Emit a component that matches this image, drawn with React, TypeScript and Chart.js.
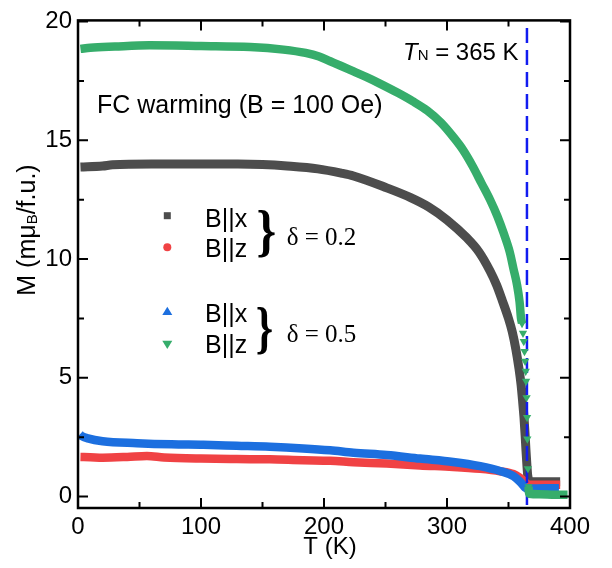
import React, { useEffect, useRef } from 'react';
import { Chart, registerables } from 'chart.js';

Chart.register(...registerables);

// ---- axis ticks ----
const xTicks = [0, 100, 200, 300, 400];
const xMinorTicks = [50, 150, 250, 350];
const yTicks = [0, 5, 10, 15, 20];
const yMinorTicks = [2.5, 7.5, 12.5, 17.5];
const T_N = 365;

// ---- data: delta = 0.2, B||x (gray squares) ----
const grayT = [2, 20, 28, 60, 100, 130, 150, 170, 195, 214, 224, 251, 270, 285, 300, 316, 326, 335, 340.4, 345, 350, 353, 356, 358.5, 360.2, 361.5, 362.6, 363.5, 364.2, 365, 365.6, 366.5, 368, 380, 392];
const grayM = [13.88, 13.92, 13.97, 14.0, 14.0, 14.0, 13.98, 13.92, 13.8, 13.62, 13.5, 13.0, 12.6, 12.2, 11.65, 10.9, 10.3, 9.5, 8.9, 8.25, 7.5, 6.95, 6.2, 5.4, 4.72, 4.0, 3.33, 2.6, 1.95, 1.3, 0.9, 0.7, 0.64, 0.62, 0.62];

// ---- data: delta = 0.2, B||z (red circles) ----
const redT = [2, 10, 20, 40, 56, 70, 100, 129, 156, 183, 205, 224, 251, 278, 305, 327, 343, 354, 359, 362, 364, 365.5, 367, 380, 392];
const redM = [1.67, 1.66, 1.64, 1.67, 1.71, 1.65, 1.6, 1.58, 1.57, 1.53, 1.51, 1.45, 1.39, 1.31, 1.25, 1.17, 1.07, 0.95, 0.8, 0.68, 0.58, 0.52, 0.5, 0.5, 0.5];

// ---- data: delta = 0.5, B||x (blue up triangles) ----
const blueT = [1.5, 3, 8, 20, 48, 76, 102, 129, 156, 183, 205, 224, 251, 278, 305, 327, 343, 354, 359.3, 361.5, 363.4, 365, 367, 380, 391];
const blueM = [2.62, 2.55, 2.45, 2.33, 2.25, 2.2, 2.18, 2.14, 2.1, 2.03, 1.95, 1.85, 1.75, 1.6, 1.46, 1.28, 1.08, 0.86, 0.63, 0.5, 0.38, 0.34, 0.34, 0.35, 0.35];

// ---- data: delta = 0.5, B||z (green down triangles) ----
const greenT = [2, 10, 30, 58, 100, 140, 167, 185, 196, 205, 214, 224, 235, 245, 260, 272, 284, 295, 305, 313, 321, 328, 335, 341, 346, 351, 354, 357, 359, 360.2, 361, 361.8, 362.4, 363, 363.5, 364, 364.3, 364.7, 365.1, 365.3, 365.8, 366.3, 366.8, 375, 388, 398];
const greenM = [18.85, 18.9, 18.95, 19.0, 18.97, 18.93, 18.82, 18.68, 18.53, 18.33, 18.13, 17.9, 17.65, 17.4, 17.0, 16.65, 16.25, 15.75, 15.15, 14.6, 13.9, 13.2, 12.5, 11.8, 11.1, 10.3, 9.6, 8.9, 8.2, 7.5, 7.29, 6.88, 6.53, 6.11, 5.7, 5.28, 4.86, 4.17, 3.33, 2.43, 1.18, 0.42, 0.12, 0.1, 0.08, 0.08];

const GRAY = 'rgb(77,77,77)';
const RED = 'rgb(240,66,68)';
const BLUE = 'rgb(28,111,223)';
const GREEN = 'rgb(54,173,107)';
const DASH_BLUE = 'rgb(18,28,240)';

const SANS = '"Liberation Sans", Arial, sans-serif';
const SERIF = '"Liberation Serif", "Times New Roman", serif';

const toPts = (xs: number[], ys: number[]) => xs.map((x, i) => ({ x, y: ys[i] }));

// discrete (separated) green markers in the steep part of the transition
const isGreenStep = (t: number, m: number) => t > 360.5 && m > 0.3 && m < 7.4;

function drawBrace(ctx: CanvasRenderingContext2D, left: number, top: number, right: number, bottom: number) {
  ctx.save();
  ctx.font = `bold 100px ${SERIF}`;
  ctx.textAlign = 'left';
  ctx.textBaseline = 'alphabetic';
  const m = ctx.measureText('}');
  const inkW = m.actualBoundingBoxLeft + m.actualBoundingBoxRight;
  const inkH = m.actualBoundingBoxAscent + m.actualBoundingBoxDescent;
  ctx.translate(left, top);
  ctx.scale((right - left) / inkW, (bottom - top) / inkH);
  ctx.fillStyle = '#000';
  ctx.fillText('}', m.actualBoundingBoxLeft, m.actualBoundingBoxAscent);
  ctx.restore();
}

function drawRuns(ctx: CanvasRenderingContext2D, x: number, y: number, runs: { t: string; font: string; dy?: number }[], align: 'left' | 'center' = 'left') {
  let total = 0;
  for (const r of runs) {
    ctx.font = r.font;
    total += ctx.measureText(r.t).width;
  }
  let cx = align === 'center' ? x - total / 2 : x;
  for (const r of runs) {
    ctx.font = r.font;
    ctx.fillText(r.t, cx, y + (r.dy || 0));
    cx += ctx.measureText(r.t).width;
  }
}

const decorPlugin = {
  id: 'decor',
  afterDatasetsDraw(chart: any) {
    const { ctx, chartArea: a, scales } = chart;
    const xs = scales.x;
    const ys = scales.y;
    ctx.save();
    // frame
    ctx.strokeStyle = '#000';
    ctx.lineWidth = 2.5;
    ctx.strokeRect(a.left, a.top, a.right - a.left, a.bottom - a.top);
    // inward ticks on all four sides
    ctx.lineWidth = 2;
    ctx.beginPath();
    const xt = (v: number, len: number) => {
      const p = xs.getPixelForValue(v);
      ctx.moveTo(p, a.bottom);
      ctx.lineTo(p, a.bottom - len);
      ctx.moveTo(p, a.top);
      ctx.lineTo(p, a.top + len);
    };
    const yt = (v: number, len: number) => {
      const p = ys.getPixelForValue(v);
      ctx.moveTo(a.left, p);
      ctx.lineTo(a.left + len, p);
      ctx.moveTo(a.right, p);
      ctx.lineTo(a.right - len, p);
    };
    xTicks.forEach((v) => xt(v, 10));
    xMinorTicks.forEach((v) => xt(v, 6));
    yTicks.forEach((v) => yt(v, 10));
    yMinorTicks.forEach((v) => yt(v, 6));
    ctx.stroke();

    ctx.fillStyle = '#000';
    ctx.textBaseline = 'alphabetic';
    ctx.textAlign = 'left';

    // annotation texts
    ctx.font = `25px ${SANS}`;
    ctx.fillText('FC warming (B = 100 Oe)', 97, 113);

    drawRuns(ctx, 403, 59.5, [
      { t: 'T', font: `italic 24px ${SANS}` },
      { t: 'N', font: `15px ${SANS}`, dy: 0.5 },
      { t: ' = 365 K', font: `24px ${SANS}` },
    ]);

    // legend markers
    const mx = 167.3;
    ctx.fillStyle = GRAY;
    ctx.fillRect(mx - 3.5, 215.7 - 3.5, 7, 7);
    ctx.fillStyle = RED;
    ctx.beginPath();
    ctx.arc(mx, 247.3, 4, 0, Math.PI * 2);
    ctx.fill();
    ctx.fillStyle = BLUE;
    ctx.beginPath();
    ctx.moveTo(mx, 306.7);
    ctx.lineTo(mx + 5, 315);
    ctx.lineTo(mx - 5, 315);
    ctx.closePath();
    ctx.fill();
    ctx.fillStyle = GREEN;
    ctx.beginPath();
    ctx.moveTo(mx - 5, 340.7);
    ctx.lineTo(mx + 5, 340.7);
    ctx.lineTo(mx, 349);
    ctx.closePath();
    ctx.fill();

    ctx.fillStyle = '#000';
    ctx.font = `25px ${SANS}`;
    ctx.fillText('B||x', 205, 226.7);
    ctx.fillText('B||z', 205, 257.3);
    ctx.fillText('B||x', 205, 321.7);
    ctx.fillText('B||z', 205, 353);

    drawBrace(ctx, 258, 210, 275, 258);
    drawBrace(ctx, 257, 307, 272, 355);

    ctx.font = `25px ${SERIF}`;
    ctx.fillText('\u03B4 = 0.2', 286.7, 245);
    ctx.fillText('\u03B4 = 0.5', 286.7, 341.7);

    // x axis title
    ctx.font = `24px ${SANS}`;
    ctx.textAlign = 'center';
    ctx.fillText('T (K)', 330, 554);
    ctx.textAlign = 'left';

    // y axis title (rotated, with subscript B)
    ctx.save();
    ctx.translate(35, 230);
    ctx.rotate(-Math.PI / 2);
    drawRuns(ctx, 0, 0, [
      { t: 'M (m\u03BC', font: `25px ${SANS}` },
      { t: 'B', font: `15px ${SANS}`, dy: 2 },
      { t: '/f.u.)', font: `25px ${SANS}` },
    ], 'center');
    ctx.restore();

    ctx.restore();
  },
};

export default function App() {
  const ref = useRef<HTMLCanvasElement>(null);
  useEffect(() => {
    const canvas = ref.current;
    if (!canvas) return;
    const greenPts = toPts(greenT, greenM);
    const chart = new Chart(canvas, {
      type: 'line',
      data: {
        datasets: [
          {
            label: '\u03B4 = 0.5, B||z',
            data: greenPts,
            borderColor: GREEN,
            backgroundColor: GREEN,
            borderWidth: 8.5,
            pointStyle: 'triangle',
            rotation: 180,
            pointRadius: greenPts.map((p) => (isGreenStep(p.x, p.y) ? 4.8 : 0)),
            pointBorderWidth: 0,
            segment: {
              borderColor: (c: any) =>
                isGreenStep(c.p0.parsed.x, c.p0.parsed.y) && isGreenStep(c.p1.parsed.x, c.p1.parsed.y) ? 'rgba(0,0,0,0)' : GREEN,
            },
            cubicInterpolationMode: 'monotone',
            order: 0,
          } as any,
          {
            label: 'T_N',
            data: [{ x: T_N, y: -0.35 }, { x: T_N, y: 20.05 }],
            borderColor: DASH_BLUE,
            borderWidth: 2.5,
            borderDash: [15, 7],
            pointRadius: 0,
            order: 1,
          },
          {
            label: '\u03B4 = 0.5, B||x',
            data: toPts(blueT, blueM),
            borderColor: BLUE,
            backgroundColor: BLUE,
            borderWidth: 8.5,
            pointRadius: 0,
            cubicInterpolationMode: 'monotone',
            order: 2,
          },
          {
            label: '\u03B4 = 0.2, B||z',
            data: toPts(redT, redM),
            borderColor: RED,
            backgroundColor: RED,
            borderWidth: 8.5,
            pointRadius: 0,
            cubicInterpolationMode: 'monotone',
            order: 3,
          },
          {
            label: '\u03B4 = 0.2, B||x',
            data: toPts(grayT, grayM),
            borderColor: GRAY,
            backgroundColor: GRAY,
            borderWidth: 9,
            pointRadius: 0,
            cubicInterpolationMode: 'monotone',
            order: 4,
          },
        ],
      },
      options: {
        animation: false,
        responsive: false,
        devicePixelRatio: 1,
        layout: { padding: { left: 0, right: 42, top: 15, bottom: 0 } },
        plugins: { legend: { display: false }, tooltip: { enabled: false }, title: { display: false } },
        elements: { line: { borderCapStyle: 'butt', borderJoinStyle: 'round' } },
        scales: {
          x: {
            type: 'linear',
            min: 0,
            max: 400,
            grid: { display: false, drawTicks: false },
            border: { display: false },
            ticks: { color: '#000', font: { family: SANS, size: 24 }, padding: 5, maxRotation: 0 },
            afterBuildTicks: (s: any) => { s.ticks = xTicks.map((v) => ({ value: v })); },
            afterFit: (s: any) => { s.height = 60; },
          },
          y: {
            type: 'linear',
            min: -0.48,
            max: 20.05,
            grid: { display: false, drawTicks: false },
            border: { display: false },
            ticks: { color: '#000', font: { family: SANS, size: 24 }, padding: 6 },
            afterBuildTicks: (s: any) => { s.ticks = yTicks.map((v) => ({ value: v })); },
            afterFit: (s: any) => { s.width = 78; },
          },
        },
      },
      plugins: [decorPlugin],
    } as any);
    return () => chart.destroy();
  }, []);
  return (
    <div style={{ position: 'fixed', left: 0, top: 0, width: 612, height: 568, background: '#fff' }}>
      <canvas ref={ref} width={612} height={568} style={{ width: 612, height: 568, display: 'block' }} />
    </div>
  );
}
